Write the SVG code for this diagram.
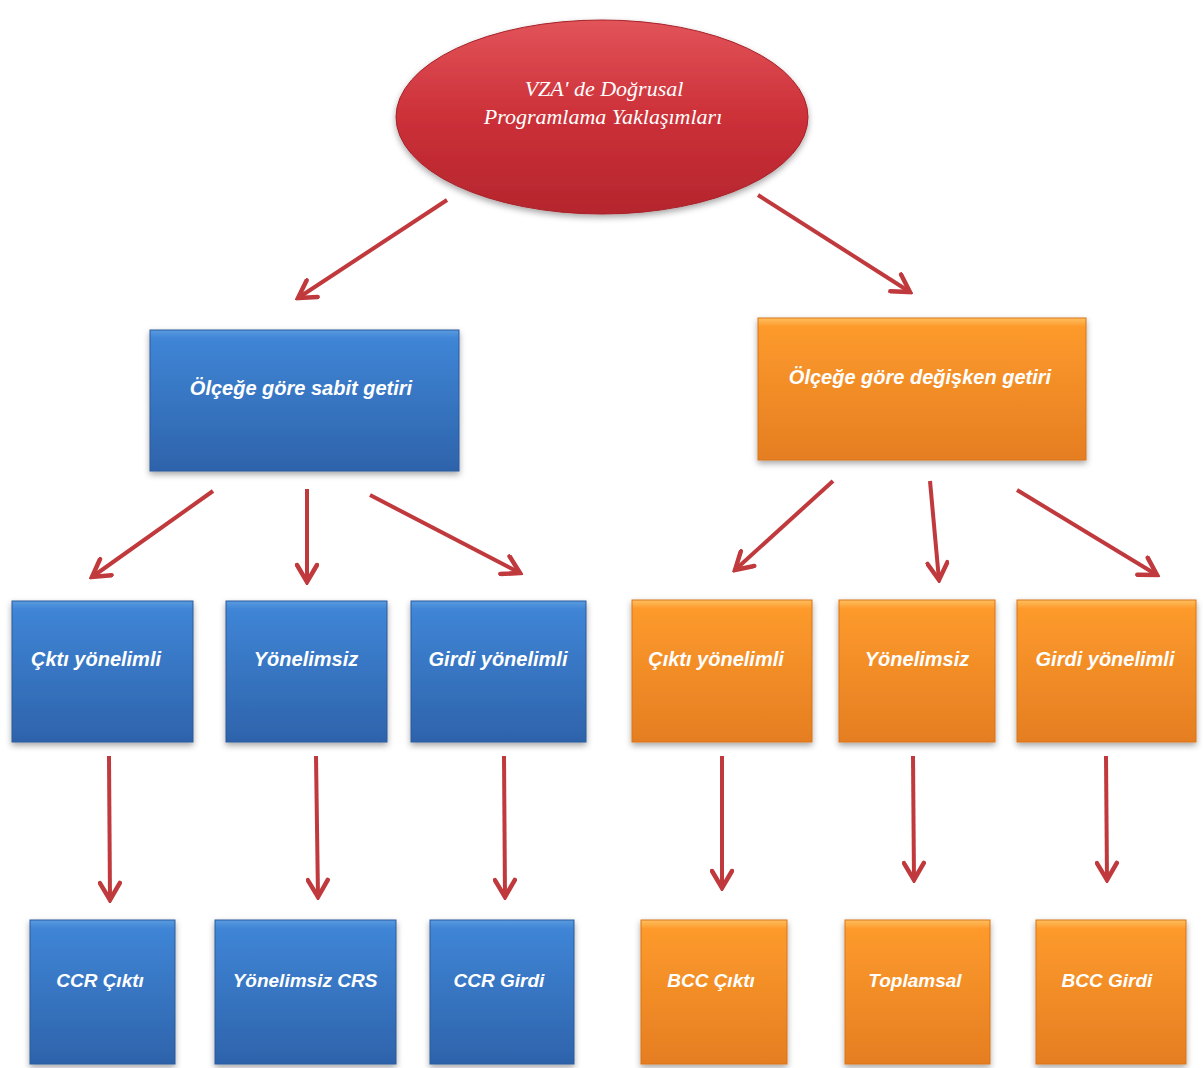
<svg xmlns="http://www.w3.org/2000/svg" width="1203" height="1068" viewBox="0 0 1203 1068">
<defs>
<linearGradient id="gBlue" x1="0" y1="0" x2="0" y2="1">
<stop offset="0" stop-color="#5a9be0"/>
<stop offset="0.06" stop-color="#3f85d6"/>
<stop offset="1" stop-color="#2e63ab"/>
</linearGradient>
<linearGradient id="gOrange" x1="0" y1="0" x2="0" y2="1">
<stop offset="0" stop-color="#ffc060"/>
<stop offset="0.06" stop-color="#fd9a2c"/>
<stop offset="1" stop-color="#e57e22"/>
</linearGradient>
<linearGradient id="gRed" x1="0" y1="0" x2="0" y2="1">
<stop offset="0" stop-color="#e2535a"/>
<stop offset="0.5" stop-color="#cc3038"/>
<stop offset="1" stop-color="#b5262d"/>
</linearGradient>
<filter id="sh" x="-10%" y="-10%" width="120%" height="130%">
<feDropShadow dx="0" dy="3" stdDeviation="3" flood-color="#000" flood-opacity="0.35"/>
</filter>
<marker id="ah" viewBox="0 0 24 24" refX="21" refY="12" markerWidth="24" markerHeight="24" markerUnits="userSpaceOnUse" orient="auto">
<path d="M4,2 L21,12 L4,22" fill="none" stroke="#c0393d" stroke-width="4.5" stroke-linejoin="miter" stroke-linecap="round"/>
</marker>
<style>
.blue{fill:url(#gBlue);stroke:#2a5a9c;stroke-width:1;filter:url(#sh)}
.orange{fill:url(#gOrange);stroke:#d97418;stroke-width:1;filter:url(#sh)}
.lbl{font-family:"Liberation Sans","Open Sans",sans-serif;font-weight:bold;font-style:italic;font-size:20px;fill:#fff;text-anchor:middle}
.sm{font-size:19px}
.ttl{font-family:"Liberation Serif","DejaVu Serif",serif;font-style:italic;font-size:22px;fill:#fff;text-anchor:middle}
.conn line{stroke:#c0393d;stroke-width:4;marker-end:url(#ah)}
</style>
</defs>
<rect width="1203" height="1068" fill="#fff"/>

<g id="root">
<ellipse cx="602" cy="117" rx="206" ry="97" fill="url(#gRed)" stroke="#a52229" stroke-width="1" filter="url(#sh)"/>
<text class="ttl" x="604" y="96">VZA' de Doğrusal</text>
<text class="ttl" x="603" y="124">Programlama Yaklaşımları</text>
</g>

<g id="crs">
<rect class="blue" x="150" y="330" width="309" height="141"/>
<text class="lbl" x="301" y="395">Ölçeğe göre sabit getiri</text>
</g>
<g id="vrs">
<rect class="orange" x="758" y="318" width="328" height="142"/>
<text class="lbl" x="920" y="384">Ölçeğe göre değişken getiri</text>
</g>

<g id="crs-out">
<rect class="blue" x="12" y="601" width="181" height="141"/>
<text class="lbl" x="96" y="666">Çktı yönelimli</text>
</g>
<g id="crs-non">
<rect class="blue" x="226" y="601" width="161" height="141"/>
<text class="lbl" x="306" y="666">Yönelimsiz</text>
</g>
<g id="crs-in">
<rect class="blue" x="411" y="601" width="175" height="141"/>
<text class="lbl" x="498" y="666">Girdi yönelimli</text>
</g>

<g id="vrs-out">
<rect class="orange" x="632" y="600" width="180" height="142"/>
<text class="lbl" x="716" y="666">Çıktı yönelimli</text>
</g>
<g id="vrs-non">
<rect class="orange" x="839" y="600" width="156" height="142"/>
<text class="lbl" x="917" y="666">Yönelimsiz</text>
</g>
<g id="vrs-in">
<rect class="orange" x="1017" y="600" width="179" height="142"/>
<text class="lbl" x="1105" y="666">Girdi yönelimli</text>
</g>

<g id="ccr-out">
<rect class="blue" x="30" y="920" width="145" height="144"/>
<text class="lbl sm" x="100" y="987">CCR Çıktı</text>
</g>
<g id="crs-nonor">
<rect class="blue" x="215" y="920" width="181" height="144"/>
<text class="lbl sm" x="305" y="987">Yönelimsiz CRS</text>
</g>
<g id="ccr-in">
<rect class="blue" x="430" y="920" width="144" height="144"/>
<text class="lbl sm" x="499" y="987">CCR Girdi</text>
</g>

<g id="bcc-out">
<rect class="orange" x="641" y="920" width="146" height="144"/>
<text class="lbl sm" x="711" y="987">BCC Çıktı</text>
</g>
<g id="additive">
<rect class="orange" x="845" y="920" width="145" height="144"/>
<text class="lbl sm" x="915" y="987">Toplamsal</text>
</g>
<g id="bcc-in">
<rect class="orange" x="1036" y="920" width="150" height="144"/>
<text class="lbl sm" x="1107" y="987">BCC Girdi</text>
</g>

<g id="connectors" class="conn">
<line x1="447" y1="200" x2="298" y2="298"/>
<line x1="758" y1="195" x2="910" y2="292"/>
<line x1="213" y1="491" x2="92" y2="577"/>
<line x1="307" y1="489" x2="307" y2="582"/>
<line x1="370" y1="495" x2="520" y2="573"/>
<line x1="833" y1="481" x2="735" y2="570"/>
<line x1="930" y1="481" x2="939" y2="580"/>
<line x1="1017" y1="490" x2="1157" y2="575"/>
<line x1="109" y1="756" x2="110" y2="900"/>
<line x1="316" y1="756" x2="318" y2="897"/>
<line x1="504" y1="756" x2="505" y2="897"/>
<line x1="722" y1="756" x2="722" y2="888"/>
<line x1="913" y1="756" x2="914" y2="880"/>
<line x1="1106" y1="756" x2="1107" y2="880"/>
</g>
</svg>
